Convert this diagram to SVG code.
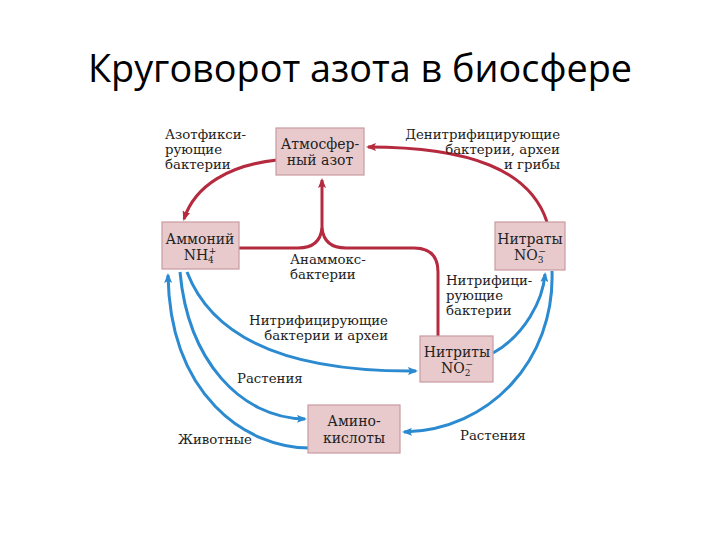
<svg xmlns="http://www.w3.org/2000/svg" width="720" height="540" viewBox="0 0 720 540">
<defs>
<style>
.title{font-family:"Open Sans","Liberation Sans",sans-serif;font-size:38px;fill:#000}
.box{fill:#e8cacd;stroke:#c99aa1;stroke-width:1.2}
.bt{font-family:"DejaVu Serif","Liberation Serif",serif;font-size:14px;fill:#222;text-anchor:middle}
.lb{font-family:"DejaVu Serif","Liberation Serif",serif;font-size:13.3px;fill:#222}
.red{fill:none;stroke:#b52a3e;stroke-width:3}
.blue{fill:none;stroke:#2b8ad0;stroke-width:3}
</style>
<marker id="ar" viewBox="0 0 10 8" refX="8" refY="4" markerWidth="10" markerHeight="8" markerUnits="userSpaceOnUse" orient="auto"><path d="M0,0 L10,4 L0,8 L2,4 z" fill="#b52a3e"/></marker>
<marker id="ab" viewBox="0 0 10 8" refX="8" refY="4" markerWidth="10" markerHeight="8" markerUnits="userSpaceOnUse" orient="auto"><path d="M0,0 L10,4 L0,8 L2,4 z" fill="#2b8ad0"/></marker>
</defs>
<rect width="720" height="540" fill="#fff"/>
<text class="title" x="360" y="82" text-anchor="middle" textLength="544" lengthAdjust="spacingAndGlyphs">Круговорот азота в биосфере</text>

<g id="connectors">
<path class="red" d="M277,160 C230,165 195,185 184,219" marker-end="url(#ar)"/>
<path class="red" d="M547,222 C530,170 470,147 368,147" marker-end="url(#ar)"/>
<path class="red" d="M239,248 H298 Q320,248 322,228"/>
<path class="red" d="M438,336 V272 Q438,248 414,248 H346 Q324,248 322,228"/>
<path class="red" d="M322,228 V180" marker-end="url(#ar)"/>
<path class="blue" d="M187,272 C215,345 300,372 416,371" marker-end="url(#ab)"/>
<path class="blue" d="M180,272 C188,360 240,418 305,419" marker-end="url(#ab)"/>
<path class="blue" d="M310,448 C245,448 170,395 168,275" marker-end="url(#ab)"/>
<path class="blue" d="M493,353 C525,335 543,300 545,274" marker-end="url(#ab)"/>
<path class="blue" d="M552,271 C555,360 490,430 404,432" marker-end="url(#ab)"/>
</g>

<g id="atm">
<rect class="box" x="276" y="128" width="88" height="47"/>
<text class="bt" x="320" y="149">Атмосфер-</text>
<text class="bt" x="320" y="165">ный азот</text>
</g>
<g id="ammonium">
<rect class="box" x="162" y="222" width="77" height="47"/>
<text class="bt" x="200" y="244">Аммоний</text>
<text class="bt" x="200" y="260">NH<tspan font-size="9" dy="3">4</tspan><tspan font-size="9" dx="-5" dy="-9">+</tspan></text>
</g>
<g id="nitrates">
<rect class="box" x="495" y="222" width="70" height="48"/>
<text class="bt" x="530" y="244">Нитраты</text>
<text class="bt" x="530" y="260">NO<tspan font-size="9" dy="3">3</tspan><tspan font-size="9" dx="-5" dy="-9">−</tspan></text>
</g>
<g id="nitrites">
<rect class="box" x="420" y="336" width="73" height="46"/>
<text class="bt" x="457" y="357">Нитриты</text>
<text class="bt" x="457" y="373">NO<tspan font-size="9" dy="3">2</tspan><tspan font-size="9" dx="-5" dy="-9">−</tspan></text>
</g>
<g id="amino">
<rect class="box" x="308" y="405" width="92" height="48"/>
<text class="bt" x="354" y="426">Амино-</text>
<text class="bt" x="354" y="443">кислоты</text>
</g>

<g id="labels">
<text class="lb" x="165" y="139">Азотфикси-</text>
<text class="lb" x="165" y="154">рующие</text>
<text class="lb" x="165" y="169">бактерии</text>
<text class="lb" x="560" y="139" text-anchor="end">Денитрифицирующие</text>
<text class="lb" x="560" y="154" text-anchor="end">бактерии, археи</text>
<text class="lb" x="560" y="169" text-anchor="end">и грибы</text>
<text class="lb" x="290" y="264">Анаммокс-</text>
<text class="lb" x="290" y="279">бактерии</text>
<text class="lb" x="446" y="285">Нитрифици-</text>
<text class="lb" x="446" y="300">рующие</text>
<text class="lb" x="446" y="315">бактерии</text>
<text class="lb" x="388" y="325" text-anchor="end">Нитрифицирующие</text>
<text class="lb" x="388" y="340" text-anchor="end">бактерии и археи</text>
<text class="lb" x="237" y="383">Растения</text>
<text class="lb" x="178" y="444">Животные</text>
<text class="lb" x="460" y="440">Растения</text>
</g>
</svg>
